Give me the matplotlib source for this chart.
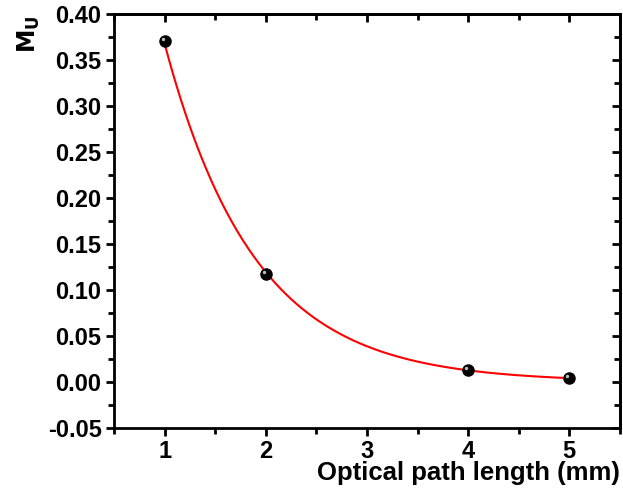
import numpy as np
import matplotlib
matplotlib.use("Agg")
import matplotlib.pyplot as plt
from matplotlib.ticker import MultipleLocator
from matplotlib.transforms import offset_copy

# data
path_len = np.array([1, 2, 4, 5])
mu = np.array([0.370, 0.117, 0.013, 0.004])

# exponential decay fit (log-linear) for the red line
b, ln_a = np.polyfit(path_len, np.log(mu), 1)
x_fit = np.linspace(path_len.min(), path_len.max(), 300)
y_fit = np.exp(ln_a) * np.exp(b * x_fit)

plt.rcParams['font.family'] = ['Liberation Sans', 'DejaVu Sans']
plt.rcParams['font.weight'] = 'bold'

fig = plt.figure(figsize=(6.23, 4.93), dpi=100)
ax = fig.add_axes([0.183, 0.132, 0.812, 0.840])

ax.plot(x_fit, y_fit, color='red', lw=1.5, zorder=2)
ax.plot(path_len, mu, 'o', color='black', ms=8, zorder=3)
hl = offset_copy(ax.transData, fig=fig, x=-1.5, y=1.5, units='points')
ax.plot(path_len, mu, 'o', color='#bbbbbb', ms=2.5, mec='none', transform=hl, zorder=4)

ax.set_xlim(0.5, 5.5)
ax.set_ylim(-0.05, 0.40)
ax.xaxis.set_major_locator(MultipleLocator(1))
ax.xaxis.set_minor_locator(MultipleLocator(0.5))
ax.yaxis.set_minor_locator(MultipleLocator(0.025))
yt = np.arange(-0.05, 0.401, 0.05)
ax.set_yticks(yt)
ax.set_yticklabels([f"{v:.2f}" for v in yt])

for s in ax.spines.values():
    s.set_linewidth(2)

ax.tick_params(axis='both', which='major', direction='out', length=6, width=2,
               labelsize=17, pad=3)
ax.tick_params(axis='both', which='minor', direction='out', length=4, width=2)
# inward ticks on top and right
axt = ax.secondary_xaxis('top')
axt.xaxis.set_major_locator(MultipleLocator(1))
axt.xaxis.set_minor_locator(MultipleLocator(0.5))
axt.tick_params(which='major', direction='in', length=6, width=2, labeltop=False)
axt.tick_params(which='minor', direction='in', length=4, width=2)
axr = ax.secondary_yaxis('right')
axr.yaxis.set_major_locator(MultipleLocator(0.05))
axr.yaxis.set_minor_locator(MultipleLocator(0.025))
axr.tick_params(which='major', direction='in', length=6, width=2, labelright=False)
axr.tick_params(which='minor', direction='in', length=4, width=2)
for s in list(axt.spines.values()) + list(axr.spines.values()):
    s.set_linewidth(2)

ax.set_xlabel('Optical path length (mm)', fontsize=18.5, fontweight='bold')
ax.xaxis.set_label_coords(1.0, -0.08)
ax.xaxis.label.set_horizontalalignment('right')
ax.set_ylabel(r'$\mathbf{M_U}$', fontsize=17)
ax.yaxis.set_label_coords(-0.142, 0.95)

fig.savefig('out.png', dpi=100)
